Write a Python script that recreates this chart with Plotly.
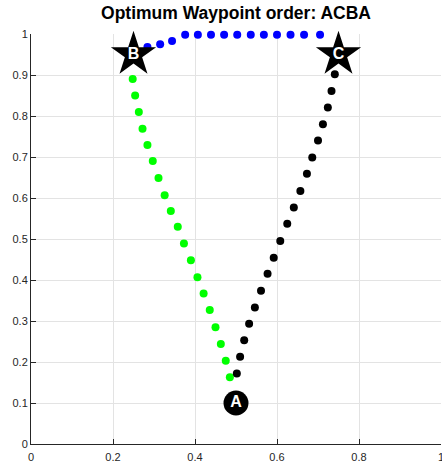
import plotly.graph_objects as go

# Waypoints
wp_names = ["A", "B", "C"]
wp_x = [0.5, 0.25, 0.75]
wp_y = [0.1, 0.95, 0.95]

# Path B -> C (blue)
blue_x = [0.284, 0.315, 0.344, 0.376, 0.407, 0.439, 0.471, 0.503, 0.536, 0.568, 0.600, 0.633, 0.666, 0.705]
blue_y = [0.968, 0.975, 0.983, 0.998, 0.998, 0.998, 0.998, 0.998, 0.998, 0.998, 0.998, 0.998, 0.998, 0.998]

# Path B -> A (green)
green_x = [0.248, 0.254, 0.263, 0.272, 0.284, 0.297, 0.311, 0.326, 0.341, 0.358, 0.373, 0.390, 0.406, 0.421, 0.436, 0.450, 0.463, 0.475, 0.485]
green_y = [0.890, 0.850, 0.810, 0.769, 0.729, 0.690, 0.649, 0.607, 0.568, 0.530, 0.489, 0.448, 0.407, 0.367, 0.327, 0.285, 0.244, 0.203, 0.163]

# Path A -> C (black)
black_x = [0.502, 0.510, 0.520, 0.532, 0.546, 0.561, 0.577, 0.592, 0.608, 0.625, 0.641, 0.657, 0.673, 0.686, 0.700, 0.712, 0.724, 0.733, 0.741]
black_y = [0.172, 0.213, 0.253, 0.293, 0.333, 0.374, 0.415, 0.454, 0.495, 0.537, 0.577, 0.617, 0.659, 0.699, 0.740, 0.780, 0.821, 0.861, 0.902]

tick_vals = [0, 0.2, 0.4, 0.6, 0.8, 1]
ytick_vals = [0, 0.1, 0.2, 0.3, 0.4, 0.5, 0.6, 0.7, 0.8, 0.9, 1]

fig = go.Figure()
dot = dict(size=8)
fig.add_trace(go.Scatter(x=blue_x, y=blue_y, mode="markers", marker=dict(color="#0000ff", **dot), cliponaxis=False))
fig.add_trace(go.Scatter(x=green_x, y=green_y, mode="markers", marker=dict(color="#00ff00", **dot), cliponaxis=False))
fig.add_trace(go.Scatter(x=black_x, y=black_y, mode="markers", marker=dict(color="#000000", **dot), cliponaxis=False))

# Start marker A (circle) and waypoints B, C (stars)
fig.add_trace(go.Scatter(x=wp_x[:1], y=wp_y[:1], mode="markers+text", text=wp_names[:1],
                         textposition="middle center",
                         textfont=dict(color="white", size=16, family="Liberation Sans, Arial", weight="bold"),
                         marker=dict(symbol="circle", size=25, color="black"), cliponaxis=False))
fig.add_trace(go.Scatter(x=wp_x[1:], y=wp_y[1:], mode="markers+text", text=wp_names[1:],
                         textposition="middle center",
                         textfont=dict(color="white", size=16, family="Liberation Sans, Arial", weight="bold"),
                         marker=dict(symbol="star", size=34, color="black"), cliponaxis=False))

axis_common = dict(
    range=[0, 1], showgrid=True, gridcolor="#e3e3e3", gridwidth=1,
    showline=True, linecolor="#262626", linewidth=1,
    ticks="inside", ticklen=5, tickcolor="#262626",
    tickfont=dict(family="Liberation Sans, Arial", size=11, color="#262626"),
    zeroline=False, mirror=False, ticklabeloverflow="allow",
)
fig.update_layout(
    width=442, height=463,
    margin=dict(l=31, r=1, t=34, b=19, autoexpand=False),
    plot_bgcolor="white", paper_bgcolor="white",
    showlegend=False,
    title=dict(text="<b>Optimum Waypoint order: ACBA</b>", x=0.534, xanchor="center",
               y=0.985, yanchor="top",
               font=dict(family="Liberation Sans, Arial", size=17.5, color="black")),
    xaxis=dict(tickvals=tick_vals, ticktext=["0", "0.2", "0.4", "0.6", "0.8", "1"],
               ticklabelstandoff=3, **axis_common),
    yaxis=dict(tickvals=ytick_vals, ticktext=["0", "0.1", "0.2", "0.3", "0.4", "0.5", "0.6", "0.7", "0.8", "0.9", "1"], **axis_common),
)

fig.write_html("out.html", config={"displayModeBar": False, "staticPlot": True},
               post_script="document.body.style.margin='0';document.body.style.overflow='hidden';")
